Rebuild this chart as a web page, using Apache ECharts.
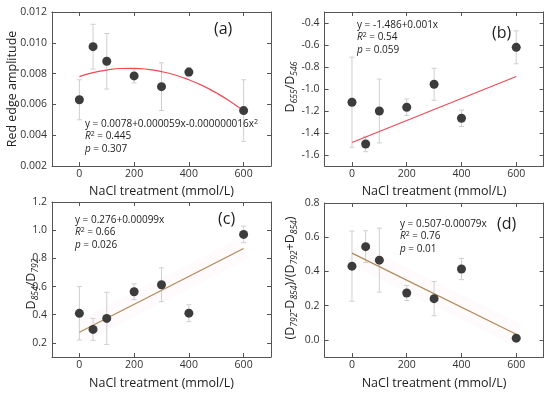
<!DOCTYPE html>
<html><head><meta charset="utf-8">
<script src="https://cdn.jsdelivr.net/npm/echarts@6/dist/echarts.min.js"></script>
<style>html,body{margin:0;padding:0;background:#fff}#c{width:550px;height:398px}</style>
</head><body><div id="c"></div><script>
// ---------- data ----------
const nacl = [0, 50, 100, 200, 300, 400, 600];
const xTickValues = [0, 200, 400, 600];

// (a) Red edge amplitude
const redEdge    = [0.0063, 0.00975, 0.0088, 0.00785, 0.00715, 0.0081, 0.0056];
const redEdgeErr = [0.0013, 0.00145, 0.0018, 0.00045, 0.00155, 0.0003, 0.002];
const redEdgeFitX = [0, 50, 100, 150, 200, 250, 300, 350, 400, 450, 500, 550, 600];
const redEdgeFitY = [0.0078, 0.00806, 0.00823, 0.00833, 0.00834, 0.00828, 0.00813, 0.00791, 0.0076, 0.00722, 0.00675, 0.00621, 0.00558];
const yTicksA = [0.002, 0.004, 0.006, 0.008, 0.010, 0.012];

// (b) D655/D546
const d655    = [-1.12, -1.50, -1.20, -1.166, -0.957, -1.266, -0.621];
const d655Err = [0.41, 0.07, 0.29, 0.075, 0.145, 0.075, 0.15];
const d655FitX = [0, 600];
const d655FitY = [-1.486, -0.886];
const yTicksB = [-1.6, -1.4, -1.2, -1.0, -0.8, -0.6, -0.4];

// (c) D854/D792
const d854    = [0.41, 0.296, 0.374, 0.563, 0.613, 0.411, 0.97];
const d854Err = [0.19, 0.078, 0.185, 0.056, 0.12, 0.06, 0.059];
const d854FitX = [0, 600];
const d854FitY = [0.276, 0.87];
const yTicksC = [0.2, 0.4, 0.6, 0.8, 1.0, 1.2];

// (d) (D792-D854)/(D792+D854)
const ndi    = [0.431, 0.545, 0.466, 0.274, 0.241, 0.414, 0.01];
const ndiErr = [0.205, 0.093, 0.187, 0.044, 0.1, 0.062, 0.02];
const ndiFitX = [0, 600];
const ndiFitY = [0.507, 0.033];
const yTicksD = [0.0, 0.2, 0.4, 0.6, 0.8];

// ---------- styling ----------
const FONT = 'Open Sans';
const AXIS_COLOR = '#555';
const TEXT_COLOR = '#333';
const RED = '#ef4a56';
const BROWN = '#b08a55';

const nameRich = {
  m: {fontSize: 12.5, fontFamily: FONT, color: '#222', lineHeight: 18, verticalAlign: 'middle'},
  s: {fontSize: 8.5, fontFamily: FONT, color: '#222', fontStyle: 'italic', lineHeight: 10, verticalAlign: 'bottom'}
};
const annRich = {
  t: {fontSize: 10, fontFamily: FONT, fontWeight: 'normal', color: '#222', lineHeight: 12.3, verticalAlign: 'middle'},
  i: {fontSize: 10, fontFamily: FONT, fontWeight: 'normal', color: '#222', fontStyle: 'italic', lineHeight: 12.3, verticalAlign: 'middle'},
  sup: {fontSize: 7, fontFamily: FONT, fontWeight: 'normal', color: '#222', lineHeight: 7, verticalAlign: 'top'}
};

const panels = [
  {grid: {left: 52, top: 12, width: 219, height: 154}, ymin: 0.002, ymax: 0.012, yTicks: yTicksA, dec: 3,
   name: '{m|Red edge amplitude}', nameX: 12, nameY: 89, vals: redEdge, errs: redEdgeErr, fx: redEdgeFitX, fy: redEdgeFitY, fc: RED, smooth: true, band: false, xnameGap: 19},
  {grid: {left: 324.6, top: 12, width: 219, height: 154}, ymin: -1.7, ymax: -0.3, yTicks: yTicksB, dec: 1,
   name: '{m|D}{s|655}{m|/D}{s|546}', nameX: 290, nameY: 87, vals: d655, errs: d655Err, fx: d655FitX, fy: d655FitY, fc: RED, smooth: false, band: false, xnameGap: 19},
  {grid: {left: 52, top: 202, width: 219, height: 155}, ymin: 0.1, ymax: 1.2, yTicks: yTicksC, dec: 1,
   name: '{m|D}{s|854}{m|/D}{s|792}', nameX: 31, nameY: 284, vals: d854, errs: d854Err, fx: d854FitX, fy: d854FitY, fc: BROWN, smooth: false, band: true, xnameGap: 20},
  {grid: {left: 324.6, top: 203, width: 219, height: 154}, ymin: -0.1, ymax: 0.8, yTicks: yTicksD, dec: 1,
   name: '{m|(D}{s|792}{m|-D}{s|854}{m|)/(D}{s|792}{m|+D}{s|854}{m|)}', nameX: 290, nameY: 278, vals: ndi, errs: ndiErr, fx: ndiFitX, fy: ndiFitY, fc: BROWN, smooth: false, band: true, xnameGap: 20}
];

const grid = [], xAxis = [], yAxis = [], series = [], graphic = [];

function errRender(params, api) {
  const x = api.value(0), lo = api.value(1), hi = api.value(2);
  const pLo = api.coord([x, lo]), pHi = api.coord([x, hi]);
  const hw = 2.5;
  const st = {stroke: '#cfcfcf', lineWidth: 1};
  return {type: 'group', children: [
    {type: 'line', shape: {x1: pLo[0], y1: pLo[1], x2: pHi[0], y2: pHi[1]}, style: st},
    {type: 'line', shape: {x1: pLo[0] - hw, y1: pLo[1], x2: pLo[0] + hw, y2: pLo[1]}, style: st},
    {type: 'line', shape: {x1: pHi[0] - hw, y1: pHi[1], x2: pHi[0] + hw, y2: pHi[1]}, style: st}
  ]};
}

panels.forEach((p, k) => {
  grid.push(Object.assign({containLabel: false}, p.grid));
  const common = {
    type: 'value', gridIndex: k, splitLine: {show: false},
    axisLine: {show: true, onZero: false, lineStyle: {color: AXIS_COLOR, width: 1}},
  };
  xAxis.push(Object.assign({}, common, {
    position: 'bottom', min: -100, max: 700,
    axisTick: {show: true, inside: true, length: 4, customValues: xTickValues, lineStyle: {color: AXIS_COLOR}},
    axisLabel: {show: true, customValues: xTickValues, margin: 3, fontSize: 10.5, fontFamily: FONT, color: TEXT_COLOR},
    name: 'NaCl treatment (mmol/L)', nameLocation: 'middle', nameGap: p.xnameGap, nameMoveOverlap: false,
    nameTextStyle: {fontSize: 12.5, fontFamily: FONT, color: '#222'}
  }));
  xAxis.push(Object.assign({}, common, {
    position: 'top', min: -100, max: 700,
    axisTick: {show: true, inside: true, length: 4, customValues: xTickValues, lineStyle: {color: AXIS_COLOR}},
    axisLabel: {show: false}
  }));
  yAxis.push(Object.assign({}, common, {
    position: 'left', min: p.ymin, max: p.ymax,
    axisTick: {show: true, inside: true, length: 4, customValues: p.yTicks, lineStyle: {color: AXIS_COLOR}},
    axisLabel: {show: true, customValues: p.yTicks, margin: 5, fontSize: 10.5, fontFamily: FONT, color: TEXT_COLOR,
      formatter: v => v.toFixed(p.dec)}
  }));
  yAxis.push(Object.assign({}, common, {
    position: 'right', min: p.ymin, max: p.ymax,
    axisTick: {show: true, inside: true, length: 4, customValues: p.yTicks, lineStyle: {color: AXIS_COLOR}},
    axisLabel: {show: false}
  }));

  graphic.push({
    type: 'text', x: p.nameX, y: p.nameY, rotation: Math.PI / 2, silent: true,
    style: {text: p.name, rich: nameRich, align: 'center', verticalAlign: 'middle', fontFamily: FONT, fontSize: 12.5, fill: '#222'}
  });

  const xi = 2 * k, yi = 2 * k;
  if (p.band) {
    series.push({
      type: 'line', xAxisIndex: xi, yAxisIndex: yi, showSymbol: false, silent: true,
      lineStyle: {color: 'rgba(250, 190, 215, 0.08)', width: 22, cap: 'butt'},
      data: p.fx.map((x, i) => [x, p.fy[i]]), z: 0
    });
  }
  series.push({
    type: 'custom', xAxisIndex: xi, yAxisIndex: yi, renderItem: errRender, silent: true,
    encode: {x: 0, y: [1, 2]},
    data: nacl.map((x, i) => [x, p.vals[i] - p.errs[i], p.vals[i] + p.errs[i]]), z: 1
  });
  series.push({
    type: 'line', xAxisIndex: xi, yAxisIndex: yi, showSymbol: false, smooth: p.smooth, silent: true,
    lineStyle: {color: p.fc, width: 1.2},
    data: p.fx.map((x, i) => [x, p.fy[i]]), z: 2
  });
  series.push({
    type: 'scatter', xAxisIndex: xi, yAxisIndex: yi, symbolSize: 9, silent: true,
    itemStyle: {color: '#3c3c3c', opacity: 1},
    data: nacl.map((x, i) => [x, p.vals[i]]), z: 3
  });
});

function ann(left, top, lines) {
  return {left: left, top: top, padding: 0, text: lines.join('\n'),
    textStyle: {rich: annRich, fontSize: 10, fontWeight: 'normal', fontFamily: FONT, lineHeight: 12.3, color: '#222'}};
}
function plab(left, top, t) {
  return {left: left, top: top, padding: 0, text: t, textStyle: {fontSize: 16, fontWeight: 'normal', fontFamily: FONT, color: '#222'}};
}

const title = [
  ann(85, 118, ['{t|y = 0.0078+0.000059x-0.000000016x}{sup|2}', '{i|R}{sup|2}{t| = 0.445}', '{i|p}{t| = 0.307}']),
  ann(357, 19, ['{t|y = -1.486+0.001x}', '{i|R}{sup|2}{t| = 0.54}', '{i|p}{t| = 0.059}']),
  ann(75, 214, ['{t|y = 0.276+0.00099x}', '{i|R}{sup|2}{t| = 0.66}', '{i|p}{t| = 0.026}']),
  ann(400, 218, ['{t|y = 0.507-0.00079x}', '{i|R}{sup|2}{t| = 0.76}', '{i|p}{t| = 0.01}']),
  plab(214, 21, '(a)'),
  plab(492, 25, '(b)'),
  plab(218, 211, '(c)'),
  plab(497, 216, '(d)')
];

const chart = echarts.init(document.getElementById('c'), null, {renderer: 'canvas'});
chart.setOption({animation: false, backgroundColor: '#fff', title, grid, xAxis, yAxis, series, graphic});
</script></body></html>
